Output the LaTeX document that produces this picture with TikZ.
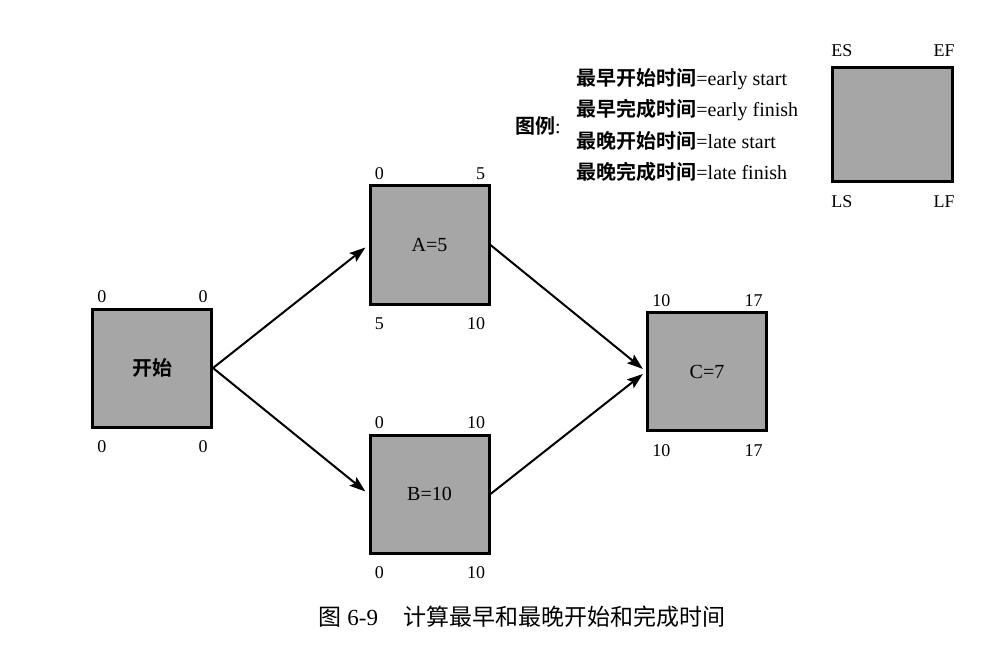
\documentclass[tikz,border=0pt]{standalone}
\usepackage{fontspec}
\usepackage{xcolor}
\usepackage{tikz}
\usetikzlibrary{arrows.meta}
\setmainfont{Liberation Serif}
\newfontfamily\cjk{Noto Sans CJK SC}
\newfontfamily\cjkb{Noto Sans CJK SC Bold}
\definecolor{boxgray}{RGB}{166,166,166}
\tikzstyle{actbox} = [draw=black, line width=1.5pt, rectangle, fill=boxgray, minimum width=59.5pt, minimum height=59pt, inner sep=0pt, font=\fontsize{10}{12}\selectfont]
\tikzstyle{val} = [inner sep=0pt, font=\fontsize{9}{11}\selectfont]
\tikzstyle{link} = [line width=1pt, -{Stealth[length=8pt, width=5.5pt, inset=1.5pt]}, shorten >=2pt]
% ES, EF, LS, LF round a box
\newcommand{\cornervals}[5]{%
    \node [val, anchor=base west] (#1-es) at ([shift={(3pt,2.5pt)}]#1.north west) {#2};
    \node [val, anchor=base east] (#1-ef) at ([shift={(-2.5pt,2.5pt)}]#1.north east) {#3};
    \node [val, anchor=base west] (#1-ls) at ([shift={(3pt,-12pt)}]#1.south west) {#4};
    \node [val, anchor=base east] (#1-lf) at ([shift={(-2.5pt,-12pt)}]#1.south east) {#5};
}

\begin{document}
\begin{tikzpicture}[x=0.5pt, y=-0.5pt]
    \useasboundingbox (0,0) rectangle (984,652);

    % boxes
    \node [actbox] (start) at (152,368) {\cjkb 开始};
    \node [actbox] (a) at (429.5,245) {A=5};
    \node [actbox] (b) at (429.5,494) {B=10};
    \node [actbox] (c) at (707,371.5) {C=7};
    \node [actbox, minimum width=60pt, minimum height=57pt] (key) at (892.5,124.5) {};

    \cornervals{start}{0}{0}{0}{0}
    \cornervals{a}{0}{5}{5}{10}
    \cornervals{b}{0}{10}{0}{10}
    \cornervals{c}{10}{17}{10}{17}

    % legend box labels
    \node [val, anchor=base west] (key-es) at ([shift={(0pt,4.5pt)}]key.north west) {ES};
    \node [val, anchor=base east] (key-ef) at ([shift={(0.5pt,4.5pt)}]key.north east) {EF};
    \node [val, anchor=base west] (key-ls) at ([shift={(0pt,-12.5pt)}]key.south west) {LS};
    \node [val, anchor=base east] (key-lf) at ([shift={(0.5pt,-12.5pt)}]key.south east) {LF};

    % legend text
    \node [anchor=west, align=left, inner sep=0pt, font=\fontsize{10}{15.7}\selectfont] (legend) at (576,125) {%
        {\cjkb 最早开始时间}=early start\\
        {\cjkb 最早完成时间}=early finish\\
        {\cjkb 最晚开始时间}=late start\\
        {\cjkb 最晚完成时间}=late finish};
    \node [anchor=east, inner sep=0pt, font=\fontsize{10}{12}\selectfont] (legend-title) at (561,126) {{\cjkb 图例}:};

    % links
    \draw [link] (start.east) -- (a.west);
    \draw [link] (start.east) -- (b.west);
    \draw [link] (a.east) -- (c.west);
    \draw [link] (b.east) -- (c.west);

    % caption
    \node [inner sep=0pt, font=\fontsize{11.5}{13}\selectfont] (caption) at (522,617) {{\cjk 图} 6-9\hspace{1.1em}{\cjk 计算最早和最晚开始和完成时间}};
\end{tikzpicture}
\end{document}
